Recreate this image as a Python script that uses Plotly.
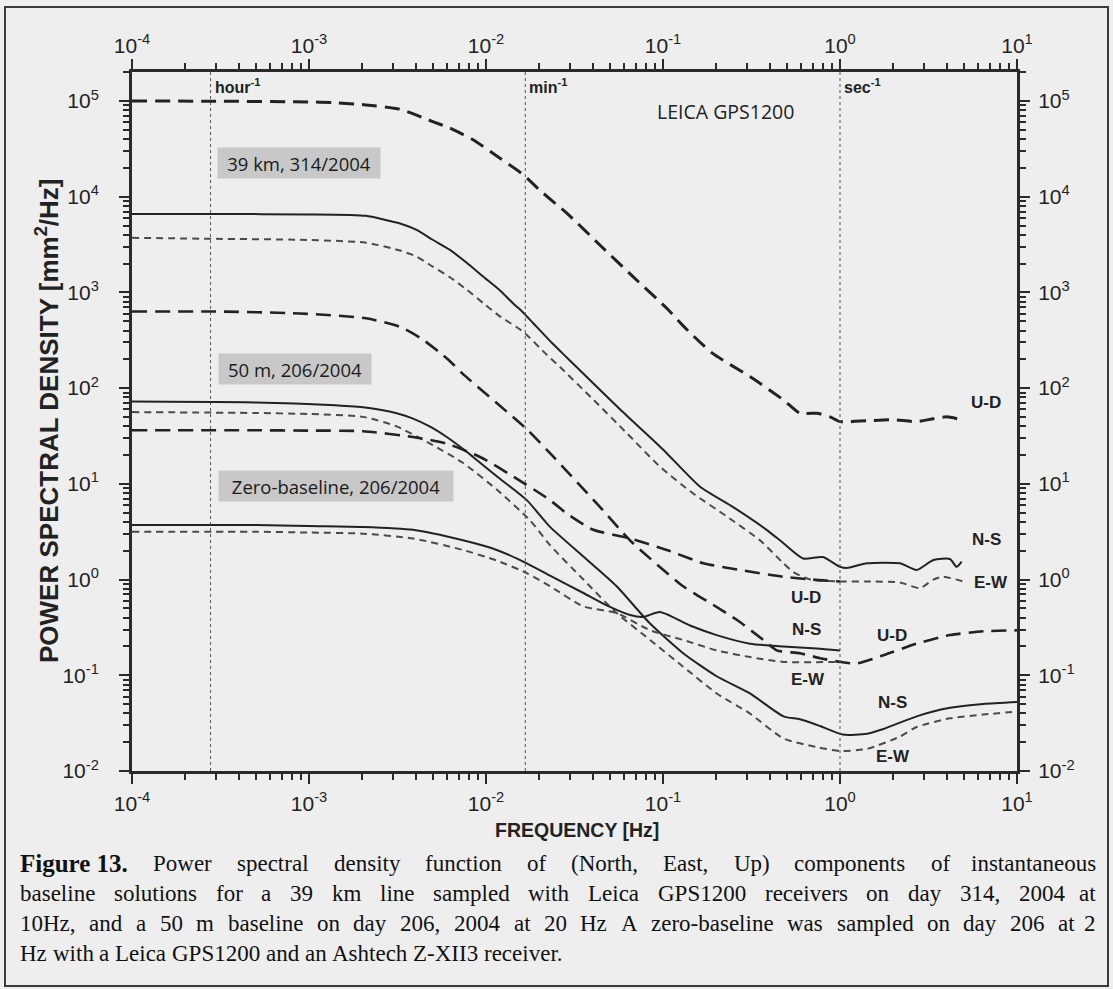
import math
import plotly.graph_objects as go

# ------------------------------------------------------------------ data
# 39 km baseline, 314/2004 (10 Hz)
f_ud39 = [1e-4, 3e-4, 1e-3, 1.37e-3, 2.1e-3, 3.27e-3, 5.0e-3, 6.26e-3, 8.45e-3, 1.2e-2, 1.63e-2,
          2.0e-2, 2.86e-2, 4.4e-2, 6.77e-2, 0.105, 0.13, 0.19, 0.31, 0.479, 0.594,
          0.74, 0.88, 1.0, 1.42, 1.99, 2.71, 3.37, 4.0, 4.87]
p_ud39 = [100000, 99500, 97700, 96200, 91000, 82000, 61000, 52000, 39300, 25200, 16900,
          11800, 6730, 3130, 1460, 684, 447, 232, 132, 75.3, 54.7,
          54.7, 50.1, 44.7, 45.7, 46.8, 44.7, 47.9, 50.1, 46.8]

f_ns39 = [1e-4, 3e-4, 1e-3, 1.71e-3, 2.1e-3, 2.6e-3, 3.27e-3, 4.05e-3, 5.0e-3, 6.26e-3, 7.78e-3,
          9.66e-3, 1.2e-2, 1.42e-2, 1.62e-2, 1.85e-2, 2.37e-2, 2.86e-2, 5.71e-2, 0.1, 0.162,
          0.248, 0.385, 0.479, 0.62, 0.80, 1.0, 1.09, 1.42, 2.18, 2.71, 3.37, 4.18, 4.56, 4.87]
p_ns39 = [6610, 6610, 6530, 6460, 6310, 5820, 5250, 4500, 3550, 2780, 2040,
          1460, 1050, 771, 617, 476, 294, 209, 60.3, 22.9, 9.33,
          5.75, 3.31, 2.40, 1.66, 1.72, 1.36, 1.32, 1.48, 1.48, 1.26, 1.60, 1.64, 1.36, 1.54]

f_ew39 = [1e-4, 3e-4, 8.9e-4, 2.1e-3, 3.27e-3, 4.05e-3, 5.0e-3, 6.26e-3, 7.78e-3, 9.66e-3, 1.2e-2,
          1.62e-2, 2.2e-2, 2.62e-2, 4.04e-2, 6.24e-2, 9.62e-2, 0.148, 0.229, 0.353, 0.479,
          0.545, 0.68, 1.04, 1.42, 2.18, 2.83, 3.37, 3.83, 4.97]
p_ew39 = [3720, 3630, 3550, 3310, 2740, 2370, 1860, 1440, 1070, 771, 562,
          389, 224, 166, 75.9, 33.9, 15.1, 7.94, 4.57, 2.57, 1.48,
          1.20, 1.0, 0.955, 0.955, 0.933, 0.813, 1.0, 1.07, 0.955]

# 50 m baseline, 206/2004 (20 Hz)
f_ud50 = [1e-4, 3e-4, 8.9e-4, 2.1e-3, 3.27e-3, 4.3e-3, 5.5e-3, 6.26e-3, 7.4e-3, 1.7e-2, 2.3e-2,
          4.4e-2, 6.51e-2, 0.130, 0.185, 0.261, 0.369, 0.439, 0.594, 0.771, 1.0,
          1.24, 1.76, 2.71, 4.18, 6.45, 10]
p_ud50 = [631, 631, 603, 537, 437, 331, 234, 191, 141, 37.2, 20.9,
          5.75, 2.57, 0.851, 0.569, 0.380, 0.234, 0.182, 0.170, 0.151, 0.138,
          0.133, 0.162, 0.214, 0.263, 0.288, 0.295]

f_ns50 = [1e-4, 5e-4, 1.31e-3, 2.02e-3, 3.13e-3, 3.87e-3, 4.83e-3, 6.0e-3, 7.46e-3, 8.45e-3, 1.15e-2,
          1.7e-2, 2.3e-2, 3.55e-2, 5.47e-2, 8.45e-2, 0.130, 0.201, 0.310, 0.479, 0.594,
          0.771, 1.04, 1.42, 1.76, 2.71, 4.18, 6.45, 10]
p_ns50 = [72.4, 71.0, 66.7, 63.0, 54.7, 48.0, 39.6, 30.9, 23.0, 19.1, 12.0,
          6.76, 3.55, 1.74, 0.851, 0.347, 0.170, 0.0977, 0.0646, 0.0372, 0.0347,
          0.0295, 0.0240, 0.0245, 0.0275, 0.0372, 0.0457, 0.0501, 0.0525]

f_ew50 = [1e-4, 5e-4, 1e-3, 2.02e-3, 3.13e-3, 4.83e-3, 7.4e-3, 1.15e-2, 1.77e-2, 2.3e-2, 3.55e-2,
          5.47e-2, 8.45e-2, 0.130, 0.201, 0.310, 0.479, 0.738, 1.0, 1.42, 2.18,
          2.71, 4.18, 6.45, 10]
p_ew50 = [56.2, 55.0, 53.7, 50.1, 39.8, 26.3, 16.6, 8.71, 4.17, 2.29, 1.0,
          0.447, 0.234, 0.123, 0.0646, 0.0398, 0.0219, 0.0178, 0.0162, 0.0170, 0.0229,
          0.0288, 0.0355, 0.0389, 0.0417]

# zero-baseline, 206/2004 (2 Hz)
f_ud0 = [1e-4, 5e-4, 1e-3, 2.02e-3, 3.87e-3, 6.0e-3, 9.25e-3, 1.42e-2, 2.3e-2, 2.86e-2, 4.04e-2,
         6.51e-2, 0.105, 0.169, 0.272, 0.479, 0.70, 1.0]
p_ud0 = [36.3, 36.3, 36.0, 35.5, 30.9, 26.3, 19.1, 12.0, 6.76, 4.90, 3.31,
         2.69, 2.04, 1.48, 1.26, 1.07, 1.0, 0.955]

f_ns0 = [1e-4, 5e-4, 1e-3, 2.02e-3, 3.87e-3, 7.4e-3, 1.15e-2, 1.7e-2, 2.3e-2, 3.55e-2, 4.81e-2,
         6.51e-2, 7.71e-2, 9.62e-2, 0.142, 0.201, 0.310, 0.479, 0.738, 1.0]
p_ns0 = [3.72, 3.72, 3.63, 3.55, 3.31, 2.57, 2.04, 1.48, 1.10, 0.724, 0.537,
         0.427, 0.407, 0.457, 0.331, 0.263, 0.214, 0.200, 0.191, 0.182]

f_ew0 = [1e-4, 5e-4, 1e-3, 2.02e-3, 3.87e-3, 7.4e-3, 1.15e-2, 1.7e-2, 2.3e-2, 3.55e-2, 5.47e-2,
         8.45e-2, 0.130, 0.201, 0.310, 0.479, 1.0]
p_ew0 = [3.16, 3.16, 3.10, 3.02, 2.69, 2.04, 1.58, 1.17, 0.851, 0.525, 0.447,
         0.295, 0.234, 0.182, 0.155, 0.138, 0.138]

ref_freq = [1 / 3600, 1 / 60, 1.0]
ref_text = ["hour<sup>-1</sup>", "min<sup>-1</sup>", "sec<sup>-1</sup>"]

x_tickvals = [1e-4, 1e-3, 1e-2, 1e-1, 1e0, 1e1]
x_ticktext = ["10<sup>-4</sup>", "10<sup>-3</sup>", "10<sup>-2</sup>", "10<sup>-1</sup>",
              "10<sup>0</sup>", "10<sup>1</sup>"]
y_tickvals = [1e-2, 1e-1, 1e0, 1e1, 1e2, 1e3, 1e4, 1e5]
y_ticktext = ["10<sup>-2</sup>", "10<sup>-1</sup>", "10<sup>0</sup>", "10<sup>1</sup>",
              "10<sup>2</sup>", "10<sup>3</sup>", "10<sup>4</sup>", "10<sup>5</sup>"]

group_labels = ["39 km, 314/2004", "50 m, 206/2004", "Zero-baseline, 206/2004"]
caption_lines = [
    "Power spectral density function of (North, East, Up) components of instantaneous",
    "baseline solutions for a 39 km line sampled with Leica GPS1200 receivers on day 314, 2004 at",
    "10Hz, and a 50 m baseline on day 206, 2004 at 20 Hz A zero-baseline was sampled on day 206 at 2",
    "Hz with a Leica GPS1200 and an Ashtech Z-XII3 receiver.",
]

# ------------------------------------------------------------------ layout geometry
W, H = 1113, 989
L, R, T, B = 132, 96, 72, 218
PW, PH = W - L - R, H - T - B
X_RANGE = [-4, 1]
Y_RANGE = [-2, 5.303]
YMIN, YMAX = 10 ** Y_RANGE[0], 10 ** Y_RANGE[1]


def px(x):
    return (x - L) / PW


def py(y):
    return (H - B - y) / PH


INK = "#222222"
SANS = "Liberation Sans, Arial, sans-serif"
SERIF = "Liberation Serif, Times New Roman, serif"
HUM = "Open Sans, sans-serif"
UD_DASH = "15px,8px"
EW_DASH = "7px,5px"

fig = go.Figure()

series = [
    (f_ud39, p_ud39, UD_DASH, 3.0, INK),
    (f_ns39, p_ns39, "solid", 2.0, INK),
    (f_ew39, p_ew39, EW_DASH, 2.0, "#4a4a4a"),
    (f_ud50, p_ud50, UD_DASH, 2.6, INK),
    (f_ns50, p_ns50, "solid", 2.0, INK),
    (f_ew50, p_ew50, EW_DASH, 2.0, "#4a4a4a"),
    (f_ud0, p_ud0, UD_DASH, 2.6, INK),
    (f_ns0, p_ns0, "solid", 2.0, INK),
    (f_ew0, p_ew0, EW_DASH, 2.0, "#4a4a4a"),
]
for fx, pv, dash, w, col in series:
    fig.add_trace(go.Scatter(x=fx, y=pv, mode="lines",
                             line=dict(color=col, width=w, dash=dash, shape="spline", smoothing=0.6),
                             hoverinfo="skip", showlegend=False))

# vertical reference lines (hour^-1, min^-1, sec^-1) on the overlay axes
for fr in ref_freq:
    fig.add_trace(go.Scatter(x=[fr, fr], y=[YMIN, YMAX], mode="lines", xaxis="x2", yaxis="y2",
                             line=dict(color="#555555", width=1, dash="dot"),
                             hoverinfo="skip", showlegend=False))


def minor_vals(lo, hi):
    out = []
    for e in range(lo, hi + 1):
        for k in range(2, 10):
            out.append(k * 10.0 ** e)
    return out


x_minor = minor_vals(-4, 0)
y_minor = minor_vals(-2, 5)[:-7]

axis_common = dict(type="log", showgrid=False, zeroline=False, showline=True, automargin=False,
                   linewidth=3, linecolor="#2a2a2a", ticks="outside", ticklen=10, tickwidth=2,
                   tickcolor="#2a2a2a", tickfont=dict(family=SANS, size=21, color=INK))
minor_common = dict(tickmode="array", ticks="outside", ticklen=6, tickwidth=1.5,
                    tickcolor="#2a2a2a", showgrid=False)

fig.update_layout(
    width=W, height=H, autosize=False,
    margin=dict(l=L, r=R, t=T, b=B, pad=0),
    paper_bgcolor="#eeeeee", plot_bgcolor="#eeeeee",
    xaxis=dict(**axis_common, range=X_RANGE, tickmode="array", tickvals=x_tickvals,
               ticktext=x_ticktext, side="bottom", ticklabelstandoff=2,
               minor=dict(**minor_common, tickvals=x_minor)),
    xaxis2=dict(**axis_common, range=X_RANGE, tickmode="array", tickvals=x_tickvals,
                ticktext=x_ticktext, side="top", overlaying="x", ticklabelstandoff=-2,
                minor=dict(**minor_common, tickvals=x_minor)),
    yaxis=dict(**axis_common, range=Y_RANGE, tickmode="array", tickvals=y_tickvals,
               ticktext=y_ticktext, side="left", ticklabelstandoff=16,
               minor=dict(**minor_common, tickvals=y_minor)),
    yaxis2=dict(**axis_common, range=Y_RANGE, tickmode="array", tickvals=y_tickvals,
                ticktext=y_ticktext, side="right", overlaying="y", ticklabelstandoff=4,
                minor=dict(**minor_common, tickvals=y_minor)),
)

ann = []


def text(x, y, s, size=17, family=SANS, xanchor="center", yanchor="middle", bold=False, **kw):
    ann.append(dict(xref="paper", yref="paper", x=px(x), y=py(y),
                    text=("<b>%s</b>" % s) if bold else s, showarrow=False,
                    xanchor=xanchor, yanchor=yanchor,
                    font=dict(family=family, size=size, color=INK), **kw))


# reference line labels, placed at their frequencies
for fr, lab in zip(ref_freq, ref_text):
    ann.append(dict(xref="x", yref="paper", x=math.log10(fr), y=py(86), text="<b>%s</b>" % lab,
                    showarrow=False, xanchor="left", yanchor="middle", xshift=2,
                    font=dict(family=SANS, size=16, color=INK)))

text(725, 111, "LEICA GPS1200", size=19.5, family=HUM)

# group label boxes
for (x0, y0, wbox), lab in zip([(217, 163, 162), (218, 369, 152), (218, 486, 234)], group_labels):
    ann.append(dict(xref="paper", yref="paper", x=px(x0), y=py(y0), text=lab, showarrow=False,
                    xanchor="left", yanchor="middle", width=wbox, height=30, align="center",
                    bgcolor="#c8c8c8", borderpad=0,
                    font=dict(family=HUM, size=18.5, color="#1a1a1a")))

# component labels
for (x, y, s) in [(986, 403, "U-D"), (986, 539, "N-S"), (991, 582, "E-W"),
                  (806, 597, "U-D"), (806, 629, "N-S"), (808, 679, "E-W"),
                  (892, 635, "U-D"), (892, 702, "N-S"), (893, 756, "E-W")]:
    text(x, y, s, size=17, bold=True)

# axis titles
text(577, 830, "FREQUENCY [Hz]", size=19.5, bold=True)
text(47, 421, "POWER SPECTRAL DENSITY [mm<sup>2</sup>/Hz]", size=26, bold=True, textangle=-90)

# ------------------------------------------------------------------ caption (justified)
REG = dict(zip("abcdefghijklmnopqrstuvwxyz",
               [444, 500, 444, 500, 444, 333, 500, 500, 278, 278, 500, 278, 778, 500, 500, 500,
                500, 333, 389, 278, 500, 500, 722, 500, 500, 444]))
REG.update(dict(zip("ABCDEFGHIJKLMNOPQRSTUVWXYZ",
                    [722, 667, 667, 722, 611, 556, 722, 722, 333, 389, 722, 611, 889, 722, 722, 556,
                     722, 667, 556, 611, 722, 722, 944, 722, 722, 611])))
REG.update({c: 500 for c in "0123456789"})
REG.update({" ": 250, ",": 250, ".": 250, "(": 333, ")": 333, "-": 333, "/": 278})
BOLD = dict(REG)
BOLD.update({"F": 611, "u": 556, "r": 444})
CAP = 23
CAP_BOLD = 25
CAP_L, CAP_R = 18, 1098
cap_y = [863, 893, 923, 953]


def tw(s, bold=False):
    tab = BOLD if bold else REG
    return sum(tab.get(c, 500) for c in s) * (CAP_BOLD if bold else CAP) / 1000.0


for i, line in enumerate(caption_lines):
    words = [(w, False) for w in line.split(" ")]
    if i == 0:
        words = [("Figure 13.", True)] + words
    if i < 3:
        total = sum(tw(w, b) for w, b in words)
        gap = (CAP_R - CAP_L - total) / (len(words) - 1)
    else:
        gap = tw(" ")
    x = CAP_L
    for j, (w, b) in enumerate(words):
        last = (i < 3 and j == len(words) - 1)
        ann.append(dict(xref="paper", yref="paper", x=px(CAP_R if last else x), y=py(cap_y[i]),
                        text=("<b>%s</b>" % w) if b else w, showarrow=False,
                        xanchor="right" if last else "left", yanchor="middle",
                        font=dict(family=SERIF, size=CAP_BOLD if b else CAP, color="#111111")))
        x += tw(w, b) + gap

fig.update_layout(annotations=ann)

# outer frame of the figure
fig.add_shape(type="rect", xref="paper", yref="paper", x0=px(5), x1=px(1108), y0=py(986), y1=py(7),
              line=dict(color="#3a3a3a", width=2), fillcolor="rgba(0,0,0,0)", layer="below")

fig.write_html("out.html", config={"displayModeBar": False},
               post_script="document.body.style.margin='0px';document.body.style.padding='0px';")
